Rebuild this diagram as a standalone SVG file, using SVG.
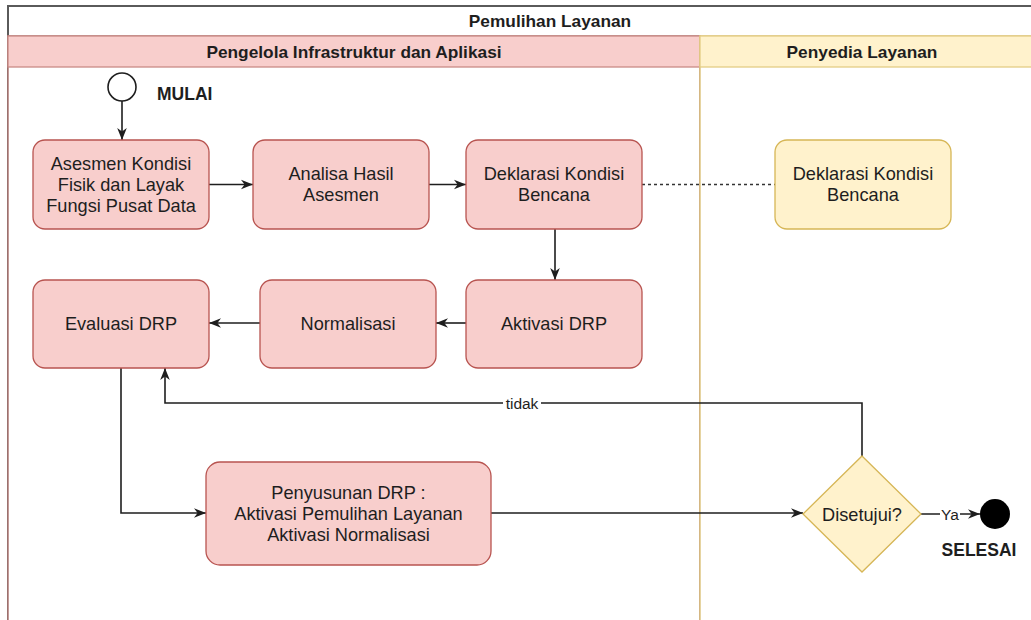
<svg xmlns="http://www.w3.org/2000/svg" width="1031" height="620" viewBox="0 0 1031 620">
  <defs>
    <style>
      .txt { font-family: "Liberation Sans", Arial, sans-serif; fill: #1e1e1e; }
      .node { font-size: 18.2px; text-anchor: middle; }
      .hdr { font-size: 17.3px; font-weight: bold; text-anchor: middle; }
      .bold { font-size: 17.5px; font-weight: bold; }
      .lbl { font-size: 15.5px; text-anchor: middle; }
      .pink { fill: #f8cecc; stroke: #b85450; stroke-width: 1.3; }
      .yellow { fill: #fff2cc; stroke: #d6b656; stroke-width: 1.3; }
      .edge { fill: none; stroke: #1e1e1e; stroke-width: 1.6; }
      .arrow { marker-end: url(#arrowhead); }
      .dash { fill: none; stroke: #333; stroke-width: 1.5; stroke-dasharray: 3 3; }
    </style>
    <marker id="arrowhead" viewBox="0 0 10 10" refX="10" refY="5" markerWidth="12" markerHeight="12" orient="auto" markerUnits="userSpaceOnUse">
      <path d="M0,1 L10,5 L0,9 L3,5 z" fill="#1e1e1e"/>
    </marker>
  </defs>

  <rect width="1031" height="620" fill="#ffffff"/>

  <!-- pool and swimlanes -->
  <g id="pool">
    <rect x="8" y="6" width="1090" height="640" fill="#ffffff" stroke="#5a5a5a" stroke-width="2"/>
    <text class="txt hdr" x="550" y="27">Pemulihan Layanan</text>
  </g>
  <g id="lane-pengelola">
    <rect x="8" y="36" width="692" height="610" fill="#ffffff" stroke="#b07a76" stroke-width="1.5"/>
    <rect x="8" y="36" width="692" height="31" fill="#f8cecc" stroke="#c98a86" stroke-width="1.3"/>
    <text class="txt hdr" x="354" y="57.5">Pengelola Infrastruktur dan Aplikasi</text>
  </g>
  <g id="lane-penyedia">
    <rect x="700" y="36" width="400" height="610" fill="#ffffff" stroke="#dcc27a" stroke-width="1.4"/>
    <rect x="700" y="36" width="400" height="31" fill="#fff2cc" stroke="#e3cc85" stroke-width="1.3"/>
    <text class="txt hdr" x="862" y="57.5">Penyedia Layanan</text>
  </g>

  <!-- connectors -->
  <g id="connectors">
    <path class="edge arrow" d="M122,101 L122,140"/>
    <path class="edge arrow" d="M209,184.5 L253,184.5"/>
    <path class="edge arrow" d="M429,184.5 L466,184.5"/>
    <path class="dash" d="M642,184.5 L775,184.5"/>
    <path class="edge arrow" d="M555,229 L555,280"/>
    <path class="edge arrow" d="M466,323 L436,323"/>
    <path class="edge arrow" d="M260,323 L209,323"/>
    <path class="edge arrow" d="M121,368 L121,513 L206,513"/>
    <path class="edge arrow" d="M491,513 L803,513"/>
    <path class="edge arrow" d="M862,456 L862,403 L165,403 L165,368"/>
    <path class="edge arrow" d="M921,514 L980,514"/>
    <rect x="503" y="395" width="38" height="16" fill="#ffffff"/>
    <text class="txt lbl" x="522" y="408.5">tidak</text>
    <rect x="940" y="506" width="20" height="16" fill="#ffffff"/>
    <text class="txt lbl" x="950" y="519.5">Ya</text>
  </g>

  <!-- start / end -->
  <g id="start">
    <circle cx="122" cy="87" r="14" fill="#ffffff" stroke="#1e1e1e" stroke-width="1.6"/>
    <text class="txt bold" x="157" y="100">MULAI</text>
  </g>
  <g id="end">
    <circle cx="995" cy="514" r="15" fill="#000000"/>
    <text class="txt bold" x="979" y="556" text-anchor="middle">SELESAI</text>
  </g>

  <!-- activity nodes -->
  <g id="asesmen">
    <rect class="pink" x="33" y="140" width="176" height="89" rx="12"/>
    <text class="txt node" x="121" y="169.5">Asesmen Kondisi</text>
    <text class="txt node" x="121" y="190.5">Fisik dan Layak</text>
    <text class="txt node" x="121" y="211.5">Fungsi Pusat Data</text>
  </g>
  <g id="analisa">
    <rect class="pink" x="253" y="140" width="176" height="89" rx="12"/>
    <text class="txt node" x="341" y="180">Analisa Hasil</text>
    <text class="txt node" x="341" y="201">Asesmen</text>
  </g>
  <g id="deklarasi">
    <rect class="pink" x="466" y="140" width="176" height="89" rx="12"/>
    <text class="txt node" x="554" y="180">Deklarasi Kondisi</text>
    <text class="txt node" x="554" y="201">Bencana</text>
  </g>
  <g id="deklarasi-penyedia">
    <rect class="yellow" x="775" y="140" width="176" height="89" rx="12"/>
    <text class="txt node" x="863" y="180">Deklarasi Kondisi</text>
    <text class="txt node" x="863" y="201">Bencana</text>
  </g>
  <g id="evaluasi">
    <rect class="pink" x="33" y="280" width="176" height="88" rx="12"/>
    <text class="txt node" x="121" y="330">Evaluasi DRP</text>
  </g>
  <g id="normalisasi">
    <rect class="pink" x="260" y="280" width="176" height="88" rx="12"/>
    <text class="txt node" x="348" y="330">Normalisasi</text>
  </g>
  <g id="aktivasi">
    <rect class="pink" x="466" y="280" width="176" height="88" rx="12"/>
    <text class="txt node" x="554" y="330">Aktivasi DRP</text>
  </g>
  <g id="penyusunan">
    <rect class="pink" x="206" y="462" width="285" height="103" rx="14"/>
    <text class="txt node" x="348.5" y="498.5">Penyusunan DRP :</text>
    <text class="txt node" x="348.5" y="519.5">Aktivasi Pemulihan Layanan</text>
    <text class="txt node" x="348.5" y="540.5">Aktivasi Normalisasi</text>
  </g>
  <g id="disetujui">
    <path class="yellow" d="M862,456 L921,514 L862,572 L803,514 Z"/>
    <text class="txt node" x="862" y="520.5">Disetujui?</text>
  </g>
</svg>
